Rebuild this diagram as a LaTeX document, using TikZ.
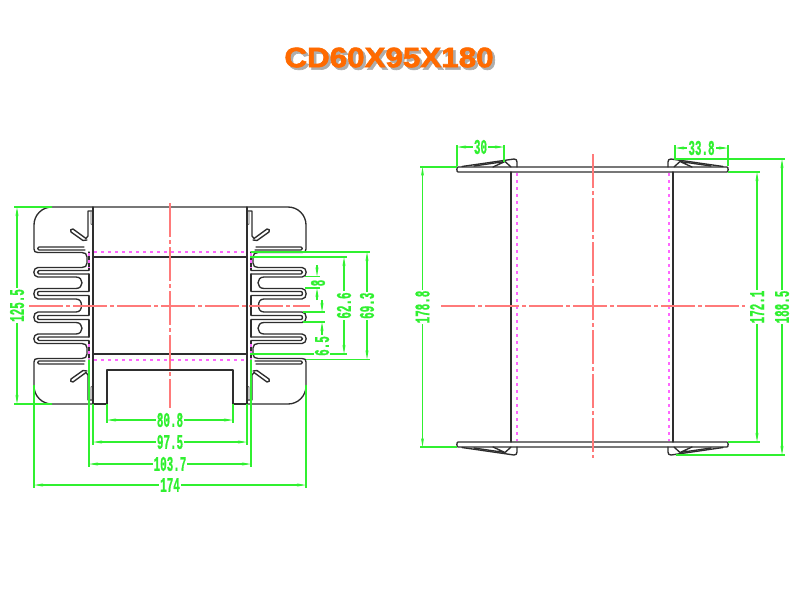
\documentclass[tikz,border=0pt]{standalone}
\usepackage{fontspec}
\usetikzlibrary{arrows.meta}
\newfontfamily\dimfont[FakeStretch=0.52,FakeBold=0.6]{Liberation Mono Bold}
\newfontfamily\titlefont[FakeStretch=1.12,FakeBold=2.4]{Liberation Sans Bold}
\definecolor{inkc}{HTML}{2E2E2E}
\definecolor{dimc}{HTML}{30F030}
\definecolor{redc}{HTML}{FF7A7A}
\definecolor{magc}{HTML}{FF66FF}
\definecolor{orangec}{HTML}{FF6A00}
\tikzset{
  ink/.style={draw=inkc,line width=1.35pt,line join=round,line cap=round},
  inkthin/.style={draw=inkc!80,line width=.8pt},
  centerline/.style={draw=redc,line width=1.25pt,dash pattern=on 34pt off 3pt on 4pt off 3pt},
  hidden/.style={draw=magc,line width=2pt,dash pattern=on 3pt off 4pt},
  dimw/.style={draw=dimc,line width=1.05pt},
  dimb/.style={draw=dimc,line width=1.05pt,{Stealth[length=9pt,width=3pt]}-{Stealth[length=9pt,width=3pt]}},
  dime/.style={draw=dimc,line width=1.05pt,-{Stealth[length=9pt,width=3pt]}},
  dimtext/.style={font=\dimfont\fontsize{21}{21}\selectfont,text=dimc,fill=white,inner sep=1pt},
  titlemain/.style={font=\titlefont\fontsize{28}{28}\selectfont,text=orangec,inner sep=0pt},
  titleshade/.style={font=\titlefont\fontsize{28}{28}\selectfont,inner sep=0pt}
}
\newcommand{\finquad}{%
  \draw[ink] (170,207) -- (52,207) .. controls (42,207) and (34,215) .. (34,225) -- (34,249)
    .. controls (34,251.5) and (35,252.5) .. (38,252.5) -- (82,252.5)
    .. controls (85,252.5) and (87,254) .. (87,257) -- (87,263)
    .. controls (87,266) and (85,267.5) .. (82,267.5) -- (38,267.5)
    .. controls (32.5,267.5) and (32.5,277) .. (38,277) -- (76,277)
    .. controls (84,277) and (84,288.5) .. (76,288.5) -- (38,288.5)
    .. controls (32.5,288.5) and (32.5,299) .. (38,299) -- (76,299)
    .. controls (80,299) and (81.5,302) .. (81.5,305.5);
  \draw[ink] (84,247) -- (39,247) .. controls (37,247) and (37,250) .. (39,250) -- (85,250);
  \draw[ink] (89,270.5) -- (39,270.5) .. controls (37,270.5) and (37,274) .. (39,274) -- (89,274);
  \draw[ink] (89,291.5) -- (39,291.5) .. controls (37,291.5) and (37,295.5) .. (39,295.5) -- (89,295.5);
  \draw[ink] (89,252) -- (89,270) (89,274) -- (89,291) (89,296) -- (89,305.5);
  \draw[ink] (93,211) -- (88,211) -- (88,236) -- (86,238.5) -- (73,229)
    .. controls (71,228) and (69.5,231) .. (71,232) -- (83,240.5) -- (87,240);
  \draw[inkthin] (91,212) -- (91,224) -- (93,225);
  \draw[ink] (93,207) -- (93,305.5);
}
\begin{document}
\begin{tikzpicture}[x=1pt,y=-1pt]
\useasboundingbox (0,0) rectangle (800,600);

% title
\node[titleshade,text=black!32] (titleB) at (391.5,60) {CD60X95X180};
\node[titlemain] (title) at (389,57.5) {CD60X95X180};

% ---------- left view ----------
\finquad
\begin{scope}[cm={-1,0,0,1,(340pt,0pt)}]\finquad\end{scope}
\begin{scope}[cm={1,0,0,-1,(0pt,-611pt)}]\finquad\end{scope}
\begin{scope}[cm={-1,0,0,-1,(340pt,-611pt)}]\finquad\end{scope}
\draw[draw=white,line width=2.8pt] (108,404) -- (232,404);
\draw[ink] (93,257) -- (247,257) (93,354) -- (247,354);
\draw[ink] (93,404) -- (107,404) -- (107,370) -- (233,370) -- (233,404) -- (247,404);
\draw[hidden] (94,252) -- (246,252) (94,360) -- (246,360);
\draw[hidden] (251,253) -- (251,268) (89,253) -- (89,268) (251,344) -- (251,359) (89,344) -- (89,359);
\draw[centerline] (170,203) -- (170,408);
\draw[centerline] (29,306) -- (310,306);

% dimensions below
\draw[dimw] (107,404) -- (107,423) (233,404) -- (233,423);
\draw[dimb] (107,420) -- node[dimtext] (d808) {80.8} (233,420);
\draw[dimw] (93,404) -- (93,445) (247,404) -- (247,445);
\draw[dimb] (93,442) -- node[dimtext] (d975) {97.5} (247,442);
\draw[dimw] (89,360) -- (89,467) (251,360) -- (251,467);
\draw[dimb] (89,464) -- node[dimtext] (d1037) {103.7} (251,464);
\draw[dimw] (34,385) -- (34,488) (306,385) -- (306,488);
\draw[dimb] (34,485) -- node[dimtext] (d174) {174} (306,485);
% left
\draw[dimw] (14,207) -- (52,207) (14,404) -- (52,404);
\draw[dimb] (17,207) -- node[dimtext,rotate=90] (d1255) {125.5} (17,404);
% right of left view
\draw[dimw] (251,252) -- (370,252) (306,359.5) -- (370,359.5);
\draw[dimb] (367,252) -- node[dimtext,rotate=90] (d693) {69.3} (367,359.5);
\draw[dimw] (250,257) -- (347,257) (250,354) -- (347,354);
\draw[dimb] (344,257) -- node[dimtext,rotate=90] (d626) {62.6} (344,354);
\draw[dimw] (305,276.5) -- (320,276.5) (305,288) -- (320,288);
\draw[dime] (317,265) -- (317,276.5);
\draw[dime] (317,300) -- (317,288);
\node[dimtext,rotate=90,inner sep=0pt] (d8) at (318,283) {8};
\draw[dimw] (303,312) -- (325,312) (303,322) -- (325,322);
\draw[dime] (322,300) -- (322,312);
\draw[dime] (322,335) -- (322,322);
\node[dimtext,rotate=90] (d65) at (322,346) {6.5};

% ---------- right view ----------
\draw[ink] (458,167) -- (727,167) .. controls (728.5,167) and (728.5,172) .. (727,172)
  -- (458,172) .. controls (456.5,172) and (456.5,167) .. (458,167) -- cycle;
\draw[ink] (458,442) -- (727,442) .. controls (728.5,442) and (728.5,447) .. (727,447)
  -- (458,447) .. controls (456.5,447) and (456.5,442) .. (458,442) -- cycle;
\draw[ink] (511,172) -- (511,442) (673,172) -- (673,442);
% wedges
\draw[ink] (462,166.5) -- (514,159) .. controls (516,159) and (517,160) .. (517,162) -- (517,167);
\draw[ink] (474,166) -- (505,161.5) -- (493,167) (505,161.5) -- (511,167);
\draw[ink] (723,166.5) -- (671,159) .. controls (669,159) and (668,160) .. (668,162) -- (668,167);
\draw[ink] (711,166) -- (680,161.5) -- (692,167) (680,161.5) -- (674,167);
\draw[ink] (462,447.5) -- (514,455) .. controls (516,455) and (517,454) .. (517,452) -- (517,447);
\draw[ink] (474,448) -- (505,452.5) -- (493,447) (505,452.5) -- (511,447);
\draw[ink] (723,447.5) -- (671,455) .. controls (669,455) and (668,454) .. (668,452) -- (668,447);
\draw[ink] (711,448) -- (680,452.5) -- (692,447) (680,452.5) -- (674,447);
% hidden
\draw[hidden] (516.5,173) -- (516.5,441) (668.5,173) -- (668.5,441);
% center lines
\draw[centerline] (593,154) -- (593,458);
\draw[centerline] (441,306) -- (745,306);
% dimensions
\draw[dimw] (457,145) -- (457,166) (504,145) -- (504,162);
\draw[dimb] (457,147) -- node[dimtext] (d30) {30} (504,147);
\draw[dimw] (675,145) -- (675,160) (728,145) -- (728,166);
\draw[dimb] (675,148) -- node[dimtext] (d338) {33.8} (728,148);
\draw[dimw] (420,167) -- (457,167) (420,447) -- (457,447);
\draw[dimb] (422.5,167) -- node[dimtext,rotate=90] (d1788) {178.8} (422.5,447);
\draw[dimw] (728,172) -- (760,172) (728,442) -- (760,442);
\draw[dimb] (757,172) -- node[dimtext,rotate=90] (d1721) {172.1} (757,442);
\draw[dimw] (676,159) -- (785,159) (676,455) -- (785,455);
\draw[dimb] (782,159) -- node[dimtext,rotate=90] (d1885) {188.5} (782,455);
\end{tikzpicture}
\end{document}
